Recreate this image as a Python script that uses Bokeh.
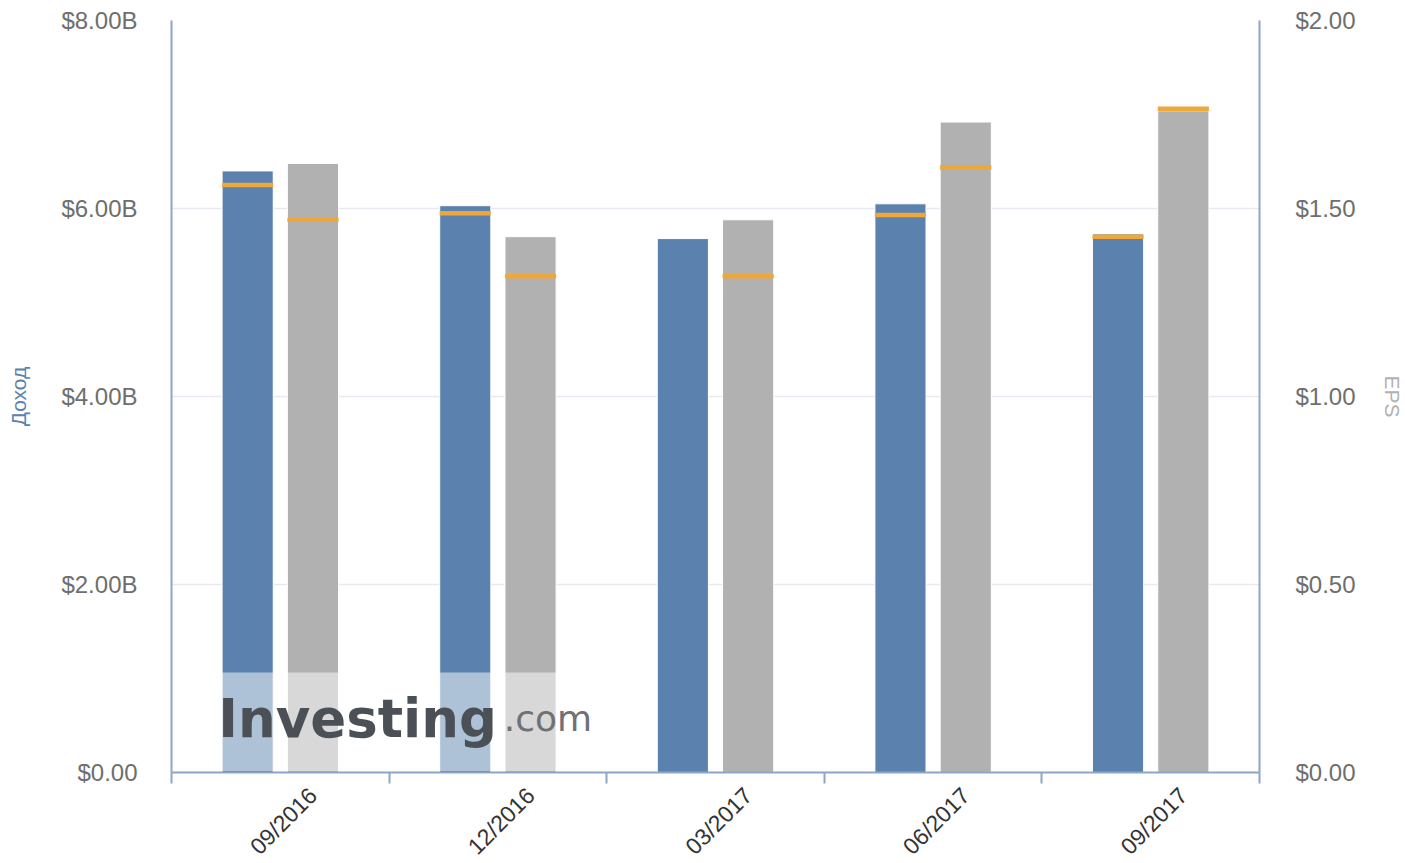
import math
import numpy as np
from bokeh.plotting import figure
from bokeh.models import Range1d, LinearAxis, FixedTicker, BoxAnnotation, Label
from bokeh.embed import file_html
from bokeh.resources import INLINE

# ---- data ----
quarters = ["09/2016", "12/2016", "03/2017", "06/2017", "09/2017"]
revenue = [6.40, 6.03, 5.68, 6.05, 5.73]            # $ billions
revenue_forecast = [6.25, 5.95, None, 5.93, 5.70]   # $ billions
eps = [1.62, 1.425, 1.47, 1.73, 1.76]               # $
eps_forecast = [1.47, 1.32, 1.32, 1.61, 1.765]      # $
rev_ticks = [0, 2, 4, 6, 8]
rev_tick_labels = ["$0.00", "$2.00B", "$4.00B", "$6.00B", "$8.00B"]
eps_ticks = [0, 0.5, 1.0, 1.5, 2.0]
eps_tick_labels = ["$0.00", "$0.50", "$1.00", "$1.50", "$2.00"]

BLUE = "#5b82ae"
GRAY = "#b1b1b1"
ORANGE = "#eea83a"
AXIS = "#8ca6c9"
FONT = "Liberation Sans"

n = len(quarters)
centers = np.arange(n) + 0.5
offset = 0.15
bw = 0.235
rev_x = centers - offset
eps_x = centers + offset
label_shift = 0.15

p = figure(frame_width=1088, frame_height=752,
           x_range=Range1d(0, n), y_range=Range1d(0, 8),
           output_backend="svg", toolbar_location=None,
           min_border_left=171, min_border_right=140,
           min_border_top=20, min_border_bottom=78,
           background_fill_color="white", border_fill_color="white")
p.outline_line_color = None
p.extra_y_ranges = {"eps": Range1d(0, 2)}

# grid
p.xgrid.grid_line_color = None
p.ygrid.ticker = FixedTicker(ticks=rev_ticks)
p.ygrid.grid_line_color = "#e6e9f0"
p.ygrid.grid_line_width = 1.5

# bars
p.vbar(x=rev_x, top=revenue, width=bw, bottom=0, fill_color=BLUE,
       line_color="white", line_width=1)
p.vbar(x=eps_x, top=eps, width=bw, bottom=0, fill_color=GRAY,
       line_color="white", line_width=1, y_range_name="eps")

# forecast markers
rf_x = [x for x, f in zip(rev_x, revenue_forecast) if f is not None]
rf_y = [f for f in revenue_forecast if f is not None]
p.segment(x0=[x - bw / 2 for x in rf_x], x1=[x + bw / 2 for x in rf_x],
          y0=rf_y, y1=rf_y, line_color=ORANGE, line_width=4.5)
p.segment(x0=eps_x - bw / 2, x1=eps_x + bw / 2, y0=eps_forecast, y1=eps_forecast,
          line_color=ORANGE, line_width=4.5, y_range_name="eps")

# x axis
label_pos = [float(c + label_shift) for c in centers]
xa = p.xaxis[0]
xa.ticker = FixedTicker(ticks=label_pos, minor_ticks=list(range(n + 1)))
xa.major_label_overrides = {lp: q for lp, q in zip(label_pos, quarters)}
xa.major_label_orientation = math.pi / 4
xa.major_tick_out = 0
xa.major_tick_in = 0
xa.minor_tick_out = 11
xa.minor_tick_in = 0
xa.minor_tick_line_color = AXIS
xa.minor_tick_line_width = 2
xa.axis_line_color = AXIS
xa.axis_line_width = 2
xa.major_label_text_font = FONT
xa.major_label_text_font_size = "23px"
xa.major_label_text_color = "#333333"
xa.major_label_standoff = 8

# left axis
ya = p.yaxis[0]
ya.ticker = FixedTicker(ticks=rev_ticks)
ya.major_label_overrides = {t: l for t, l in zip(rev_ticks, rev_tick_labels)}
ya.major_tick_out = 0
ya.major_tick_in = 0
ya.minor_tick_line_color = None
ya.axis_line_color = AXIS
ya.axis_line_width = 2
ya.major_label_text_font = FONT
ya.major_label_text_font_size = "24px"
ya.major_label_text_color = "#6e6e6e"
ya.major_label_standoff = 34
ya.axis_label = "Доход"
ya.axis_label_text_font = FONT
ya.axis_label_text_font_style = "normal"
ya.axis_label_text_font_size = "21px"
ya.axis_label_text_color = BLUE
ya.axis_label_standoff = 28

# right axis
ra = LinearAxis(y_range_name="eps", ticker=FixedTicker(ticks=eps_ticks))
ra.major_label_overrides = {t: l for t, l in zip(eps_ticks, eps_tick_labels)}
ra.major_tick_out = 0
ra.major_tick_in = 0
ra.minor_tick_line_color = None
ra.axis_line_color = AXIS
ra.axis_line_width = 2
ra.major_label_text_font = FONT
ra.major_label_text_font_size = "24px"
ra.major_label_text_color = "#6e6e6e"
ra.major_label_standoff = 36
ra.axis_label = "EPS"
ra.axis_label_text_font = FONT
ra.axis_label_text_font_style = "normal"
ra.axis_label_text_font_size = "21px"
ra.axis_label_text_color = GRAY
ra.axis_label_standoff = 22
p.add_layout(ra, "right")

# watermark
p.add_layout(BoxAnnotation(left=0.13, right=1.97, bottom=0.015, top=1.064,
                           fill_color="white", fill_alpha=0.5, line_alpha=0))
p.add_layout(Label(x=0.215, y=0.57, text="Investing", text_font="DejaVu Sans",
                   text_font_style="bold", text_font_size="53px",
                   text_baseline="alphabetic", text_color="#4b5057"))
p.add_layout(Label(x=1.527, y=0.57, text=".com", text_font="DejaVu Sans",
                   text_font_style="normal", text_font_size="36px",
                   text_baseline="alphabetic", text_color="#6f7174"))

open("out.html", "w").write(file_html(p, INLINE))
